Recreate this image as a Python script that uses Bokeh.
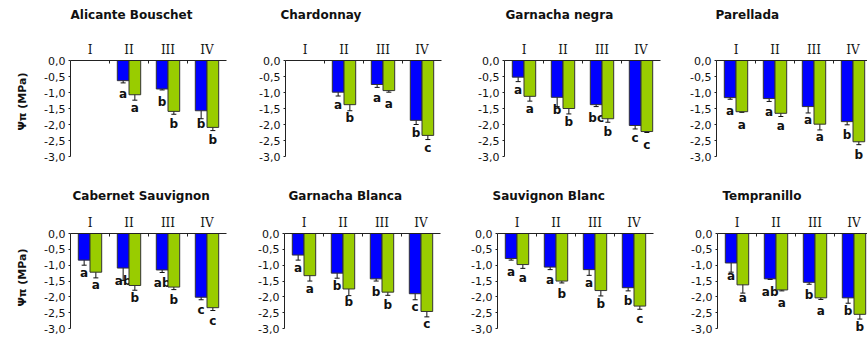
import numpy as np
from bokeh.plotting import figure
from bokeh.models import (Range1d, FixedTicker, CustomJSTickFormatter,
                          ColumnDataSource, Whisker, TeeHead, Title)
from bokeh.layouts import column, row
from bokeh.embed import file_html
from bokeh.resources import INLINE
from bokeh.core.properties import value

# ---------------- data ----------------
varieties = ["Alicante Bouschet", "Chardonnay", "Garnacha negra", "Parellada",
             "Cabernet Sauvignon", "Garnacha Blanca", "Sauvignon Blanc", "Tempranillo"]
stages = ["I", "II", "III", "IV"]
nan = float("nan")

blue_mean = [
    [nan, -0.63, -0.89, -1.57],
    [nan, -0.99, -0.75, -1.87],
    [-0.52, -1.15, -1.38, -2.03],
    [-1.16, -1.19, -1.44, -1.91],
    [-0.84, -1.09, -1.15, -2.01],
    [-0.68, -1.25, -1.43, -1.90],
    [-0.79, -1.06, -1.14, -1.71],
    [-0.93, -1.43, -1.54, -2.03],
]
blue_err = [
    [nan, 0.07, 0.03, 0.25],
    [nan, 0.12, 0.09, 0.13],
    [0.14, 0.29, 0.06, 0.11],
    [0.05, 0.09, 0.20, 0.10],
    [0.16, 0.39, 0.08, 0.08],
    [0.16, 0.16, 0.07, 0.19],
    [0.05, 0.08, 0.18, 0.10],
    [0.29, 0.02, 0.06, 0.17],
]
green_mean = [
    [nan, -1.07, -1.59, -2.09],
    [nan, -1.38, -0.94, -2.34],
    [-1.12, -1.50, -1.82, -2.22],
    [-1.60, -1.65, -1.99, -2.54],
    [-1.22, -1.64, -1.69, -2.34],
    [-1.33, -1.75, -1.85, -2.46],
    [-0.98, -1.50, -1.80, -2.29],
    [-1.62, -1.78, -2.03, -2.55],
]
green_err = [
    [nan, 0.17, 0.09, 0.10],
    [nan, 0.19, 0.05, 0.13],
    [0.15, 0.17, 0.11, 0.03],
    [0.02, 0.10, 0.18, 0.09],
    [0.18, 0.15, 0.08, 0.09],
    [0.17, 0.21, 0.10, 0.17],
    [0.12, 0.06, 0.17, 0.10],
    [0.26, 0.03, 0.05, 0.15],
]
blue_letters = [
    ["", "a", "b", "b"],
    ["", "a", "a", "b"],
    ["a", "b", "bc", "c"],
    ["a", "a", "a", "b"],
    ["a", "ab", "ab", "c"],
    ["a", "b", "b", "c"],
    ["a", "a", "a", "b"],
    ["a", "ab", "b", "b"],
]
green_letters = [
    ["", "a", "b", "b"],
    ["", "b", "a", "c"],
    ["a", "b", "b", "c"],
    ["a", "a", "a", "b"],
    ["a", "b", "b", "c"],
    ["a", "b", "b", "c"],
    ["a", "b", "b", "c"],
    ["a", "a", "a", "b"],
]
y_ticks = [0.0, -0.5, -1.0, -1.5, -2.0, -2.5, -3.0]
y_min, y_max = -3.0, 0.0
y_label = "Ψπ (MPa)"

# ---------------- layout / style ----------------
BLUE = "#0000FF"
GREEN = "#99CC00"
widths = [245, 219, 212, 191, 244, 213, 220, 190]
borders_left = [70, 40, 40, 40, 70, 40, 40, 40]
borders_right = [19, 23, 16, 0, 18, 17, 24, 0]
heights = [173, 173, 173, 173, 164, 164, 164, 164]
px_per_unit = [32.0] * 4 + [31.7] * 4
title_offsets = [0, -5, 1, -1, 2, 4, -5, 5]
spacer_standoff = [8] * 4 + [0] * 4
ylabel_offsets = [12, 0, 0, 0, 15, 0, 0, 0]
BORDER_TOP = 60
PX_PER_CAT = 39.0


def series_source(means, errs, letters, shift):
    xs, ys, lo, hi, lab = [], [], [], [], []
    for i, (m, e, t) in enumerate(zip(means, errs, letters)):
        if np.isnan(m):
            continue
        xs.append(i + 0.5 + shift)
        ys.append(m)
        lo.append(m - e)
        hi.append(m + e)
        lab.append(t)
    return ColumnDataSource(dict(x=xs, y=ys, lower=lo, upper=hi, label=lab))


def make_panel(k):
    w, h = widths[k], heights[k]
    frame_w = w - borders_left[k] - borders_right[k]
    frame_h = h - BORDER_TOP
    x_end = min(len(stages), frame_w / PX_PER_CAT)
    y_start = y_max - frame_h / px_per_unit[k]
    p = figure(width=w, height=h, x_range=Range1d(0, x_end), y_range=Range1d(y_start, y_max),
               x_axis_location="above", toolbar_location=None, output_backend="svg",
               min_border_left=borders_left[k], min_border_right=borders_right[k],
               min_border_top=BORDER_TOP, min_border_bottom=0, title=None)
    p.outline_line_color = None
    p.grid.visible = False
    p.background_fill_color = "white"
    p.border_fill_color = "white"

    xa = p.xaxis[0]
    xa.ticker = FixedTicker(ticks=[i + 0.5 for i in range(len(stages))],
                            minor_ticks=[i for i in range(1, len(stages))])
    xa.formatter = CustomJSTickFormatter(args=dict(labels=stages),
                                         code="return labels[Math.floor(tick)] || '';")
    xa.major_tick_line_color = None
    xa.major_tick_in = 0
    xa.major_tick_out = 0
    xa.minor_tick_in = 3
    xa.minor_tick_out = 0
    xa.minor_tick_line_color = "#222222"
    xa.axis_line_color = "#222222"
    xa.major_label_text_font = "DejaVu Serif"
    xa.major_label_text_font_size = "12px"
    xa.major_label_text_color = "#111111"
    xa.major_label_standoff = 4

    # spacer between the category labels and the panel title
    p.add_layout(Title(text=" ", text_font_size="1px", standoff=spacer_standoff[k]), "above")
    p.add_layout(Title(text=varieties[k], text_font="DejaVu Sans", text_font_style="bold",
                       text_font_size="12px", text_color="#111111", align="left",
                       offset=title_offsets[k], standoff=11, vertical_align="middle"),
                 "above")

    ya = p.yaxis[0]
    ya.ticker = FixedTicker(ticks=y_ticks, minor_ticks=[])
    ya.formatter = CustomJSTickFormatter(code="return tick.toFixed(1).replace('.', ',');")
    ya.bounds = (y_min, y_max)
    ya.major_tick_in = 0
    ya.major_tick_out = 2
    ya.major_tick_line_color = "#222222"
    ya.axis_line_color = "#222222"
    ya.major_label_text_font = "DejaVu Sans"
    ya.major_label_text_font_size = "11px"
    ya.major_label_text_color = "#111111"
    ya.major_label_standoff = 3
    if k % 4 == 0:
        p.add_layout(Title(text=y_label, text_font="DejaVu Sans", text_font_style="bold",
                           text_font_size="11px", text_color="#111111", align="right",
                           offset=ylabel_offsets[k], standoff=24, vertical_align="middle"),
                     "left")

    for means, errs, letters, shift, color in (
            (blue_mean[k], blue_err[k], blue_letters[k], -0.15, BLUE),
            (green_mean[k], green_err[k], green_letters[k], 0.15, GREEN)):
        src = series_source(means, errs, letters, shift)
        p.vbar(x="x", top=0, bottom="y", width=0.3, source=src,
               fill_color=color, line_color="#333333", line_width=1)
        p.add_layout(Whisker(base="x", upper="upper", lower="lower", source=src,
                             line_color="#111111", line_width=1,
                             upper_head=TeeHead(size=5, line_color="#111111", line_width=1),
                             lower_head=TeeHead(size=5, line_color="#111111", line_width=1)))
        p.text(x="x", y="y", text="label", source=src,
               text_font=value("DejaVu Sans"), text_font_style="bold",
               text_font_size="12px", text_align="center", text_baseline="middle",
               y_offset=13, text_color="#111111")
    return p


figs = [make_panel(k) for k in range(len(varieties))]
layout = column(row(*figs[:4]), row(*figs[4:]))

open("out.html", "w").write(file_html(layout, INLINE))
